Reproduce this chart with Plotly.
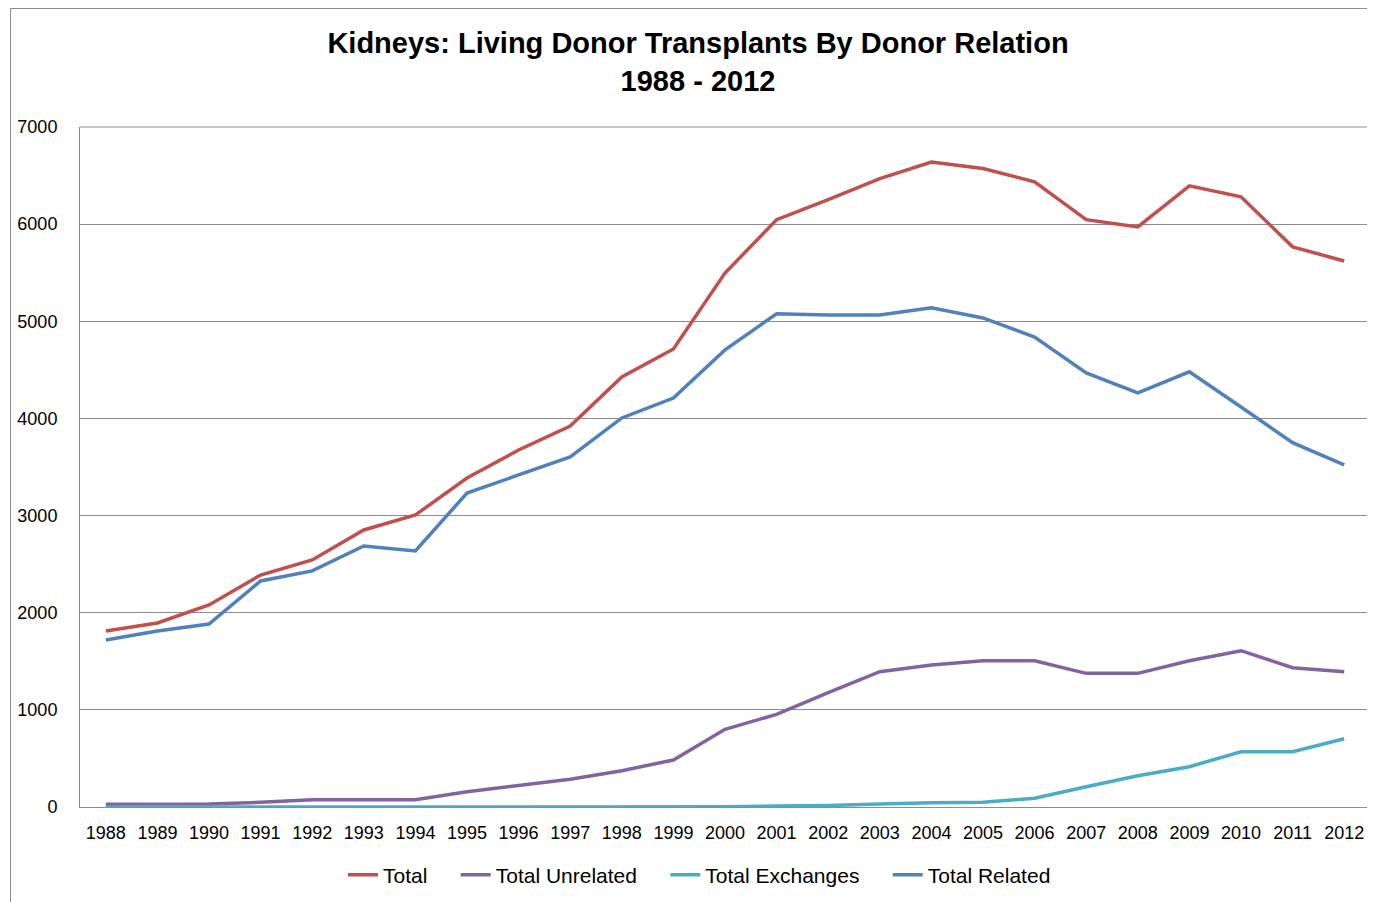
import plotly.graph_objects as go

years = [str(y) for y in range(1988, 2013)]
total = [1812, 1894, 2080, 2388, 2543, 2852, 3006, 3387, 3675, 3922, 4427, 4715,
         5497, 6046, 6252, 6468, 6640, 6572, 6436, 6046, 5972, 6394, 6282, 5766, 5621]
total_unrelated = [28, 28, 30, 48, 75, 75, 75, 158, 226, 285, 374, 484,
                   800, 954, 1177, 1393, 1462, 1506, 1506, 1376, 1376, 1506, 1609, 1434, 1393]
total_exchanges = [0, 0, 0, 0, 0, 0, 0, 0, 0, 0, 0, 0,
                   2, 10, 15, 30, 44, 48, 90, 209, 322, 415, 569, 569, 703]
total_related = [1719, 1812, 1884, 2327, 2430, 2687, 2635, 3232, 3418, 3603, 4005, 4210,
                 4705, 5078, 5065, 5065, 5140, 5034, 4838, 4468, 4263, 4480, 4118, 3750, 3521]

legend_names = ["Total", "Total Unrelated", "Total Exchanges", "Total Related"]
colors = ["#C0504D", "#8064A2", "#4BACC6", "#4F81BD"]
values = [total, total_unrelated, total_exchanges, total_related]

PAD = "\u00a0" * 4

fig = go.Figure()
for name, vals, color in zip(legend_names, values, colors):
    fig.add_trace(go.Scatter(x=years, y=vals, mode="lines", name=name + PAD,
                             line=dict(color=color, width=3.5)))

font_family = "Liberation Sans, Arial, sans-serif"
grid = "#8C8C8C"

# page body has an 8px margin; figure is sized so the visible canvas matches the window
W, H = 1367, 894
OFF = 8
L, R, T, B = 80 - OFF, 5, 127 - OFF, 95
plot_w = W - L - R
plot_h = H - T - B

def px_x(sx):
    return (sx - OFF - L) / plot_w

def px_y(sy):
    return (H - B - (sy - OFF)) / plot_h

fig.update_layout(
    width=W, height=H,
    margin=dict(l=L, r=R, t=T, b=B),
    paper_bgcolor="white", plot_bgcolor="white",
    font=dict(family=font_family, color="black", size=18),
    title=dict(text="<b>Kidneys: Living Donor Transplants By Donor Relation<br>1988 - 2012</b>",
               x=(698 - OFF) / W, xref="container", xanchor="center",
               y=1 - 45 / H, yref="container", yanchor="middle",
               font=dict(size=29, family=font_family, color="black")),
    showlegend=True,
    legend=dict(orientation="h", xref="container", yref="container",
                x=(343 - OFF) / W, xanchor="left", y=(H - (875 - OFF)) / H, yanchor="middle",
                font=dict(size=21, family=font_family), bgcolor="rgba(0,0,0,0)",
                itemwidth=30, traceorder="normal"),
    xaxis=dict(type="category", range=[-0.5, 24.5], showgrid=False,
               showline=True, linecolor=grid, linewidth=1,
               ticks="outside", ticklen=9, tickcolor="rgba(0,0,0,0)",
               tickfont=dict(size=18), zeroline=False),
    yaxis=dict(range=[0, 7000], dtick=1000, showgrid=True, gridcolor=grid, gridwidth=1,
               showline=True, linecolor=grid, linewidth=1, zeroline=False,
               ticks="outside", ticklen=18, tickcolor="rgba(0,0,0,0)",
               tickfont=dict(size=18)),
    shapes=[dict(type="rect", xref="paper", yref="paper",
                 x0=px_x(10.5), x1=px_x(1400),
                 y0=px_y(930), y1=px_y(8.5),
                 line=dict(color=grid, width=1), fillcolor="rgba(0,0,0,0)", layer="below"),
            dict(type="line", xref="paper", yref="paper", x0=0, x1=1, y0=1, y1=1,
                 line=dict(color=grid, width=1), layer="below")],
)

fig.write_html("out.html")
